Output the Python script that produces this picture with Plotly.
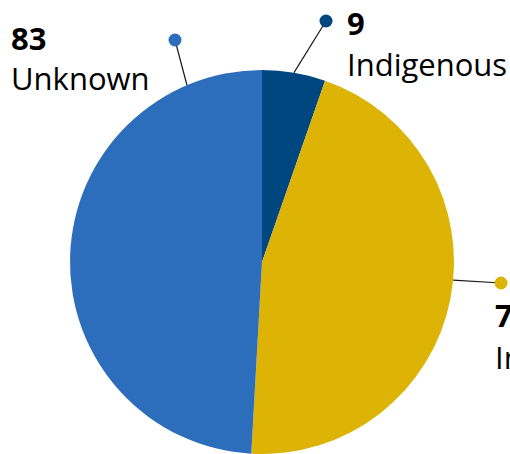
import math
import plotly.graph_objects as go

# ---- data ----
categories = ["Indigenous", "Interstate", "Unknown"]
values = [9, 77, 83]
colors = ["#00467F", "#DDB305", "#2C6EBB"]

W, H = 510, 454
CX, CY, R = 262, 262, 192

fig = go.Figure()
fig.add_trace(go.Pie(
    labels=categories, values=values, sort=False, direction="clockwise",
    rotation=0, marker=dict(colors=colors, line=dict(width=0)),
    textinfo="none", hoverinfo="label+value", showlegend=False,
    domain=dict(x=[(CX - R) / W, (CX + R) / W], y=[(H - CY - R) / H, (H - CY + R) / H]),
))

total = sum(values)
mid = []
acc = 0
for v in values:
    mid.append((acc + v / 2) / total * 360)
    acc += v
anchor_angles = [mid[0], 95.4, 337.0]
dots = [(326, 21), (501, 283), (175, 40)]
num_pos = [(345, 23), (493, 315), (9, 38)]
name_pos = [(345, 64), (493, 357), (9, 78)]

shapes = []
annotations = []
FONT = "Open Sans"
for i, cat in enumerate(categories):
    a = math.radians(anchor_angles[i])
    ex, ey = CX + R * math.sin(a), CY - R * math.cos(a)
    dx, dy = dots[i]
    shapes.append(dict(type="line", xref="x", yref="y", x0=ex, y0=ey, x1=dx, y1=dy,
                       line=dict(color="#1a1a1a", width=1.2)))
    shapes.append(dict(type="circle", xref="x", yref="y", x0=dx - 6.5, y0=dy - 6.5,
                       x1=dx + 6.5, y1=dy + 6.5, fillcolor=colors[i], line=dict(width=0)))
    nx, ny = num_pos[i]
    annotations.append(dict(
        xref="x", yref="y", x=nx, y=ny, xanchor="left", yanchor="middle", showarrow=False,
        text=f"<b>{values[i]}</b>",
        font=dict(family=FONT, size=31, color="#000000"),
    ))
    mx, my = name_pos[i]
    annotations.append(dict(
        xref="x", yref="y", x=mx, y=my, xanchor="left", yanchor="middle", showarrow=False,
        text=cat,
        font=dict(family=FONT, size=31, color="#000000"),
    ))

fig.add_trace(go.Scatter(x=[0, W], y=[0, H], mode="markers", marker=dict(opacity=0),
                         hoverinfo="skip", showlegend=False))
fig.update_layout(
    width=W, height=H, margin=dict(l=0, r=0, t=0, b=0),
    paper_bgcolor="white", plot_bgcolor="rgba(0,0,0,0)",
    xaxis=dict(range=[0, W], visible=False, fixedrange=True),
    yaxis=dict(range=[H, 0], visible=False, fixedrange=True),
    shapes=shapes, annotations=annotations,
)
fig.write_html("out.html")
